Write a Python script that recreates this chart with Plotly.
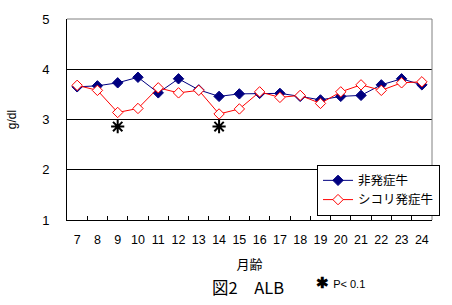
import plotly.graph_objects as go

months = [str(m) for m in range(7, 25)]
non_onset = [3.65, 3.67, 3.73, 3.84, 3.53, 3.81, 3.59, 3.46, 3.51, 3.52, 3.52, 3.46, 3.39, 3.46, 3.48, 3.69, 3.81, 3.69]
shikori = [3.68, 3.58, 3.14, 3.22, 3.63, 3.53, 3.58, 3.11, 3.21, 3.55, 3.44, 3.48, 3.32, 3.55, 3.69, 3.58, 3.73, 3.75]
sig_months = ["9", "14"]
sig_level = [2.86, 2.86]

font = "Liberation Sans, Arial, Noto Sans CJK JP, sans-serif"
jp = "Noto Sans CJK JP, sans-serif"

fig = go.Figure()
fig.add_trace(go.Scatter(
    x=months, y=non_onset, mode="lines+markers", name="非発症牛",
    line=dict(color="#000080", width=1),
    marker=dict(symbol="diamond", size=8, color="#000080", line=dict(color="#000080", width=1)),
))
fig.add_trace(go.Scatter(
    x=months, y=shikori, mode="lines+markers", name="シコリ発症牛",
    line=dict(color="#ff0000", width=1),
    marker=dict(symbol="diamond", size=8, color="white", line=dict(color="#ff0000", width=1)),
))
fig.add_trace(go.Scatter(
    x=sig_months, y=sig_level, mode="markers", showlegend=False,
    marker=dict(symbol="asterisk-open", size=11, color="black", line=dict(color="black", width=2)),
))

fig.update_layout(
    width=452, height=305,
    margin=dict(l=65, r=17, t=16, b=85),
    paper_bgcolor="white", plot_bgcolor="white",
    font=dict(family=font, size=13, color="black"),
    showlegend=True,
    legend=dict(
        x=1.022, y=0.275, xanchor="right", yanchor="top",
        bgcolor="white", bordercolor="black", borderwidth=1,
        font=dict(family=jp, size=12.5),
        tracegroupgap=0, itemwidth=30,
    ),
    xaxis=dict(
        type="category", categoryorder="array", categoryarray=months,
        range=[-0.5, 17.5],
        showline=True, linecolor="black", linewidth=1,
        ticks="inside", ticklen=4, tickcolor="black", tickson="boundaries",
        showgrid=False, zeroline=False, fixedrange=True,
        tickangle=0, tickfont=dict(size=12.5),
        ticklabelstandoff=8,
        title=dict(text="月齢", font=dict(family=jp, size=13), standoff=13),
    ),
    yaxis=dict(
        range=[1, 5], dtick=1, tick0=1,
        showline=True, linecolor="black", linewidth=1,
        showgrid=True, gridcolor="black", gridwidth=1,
        zeroline=False, ticks="", ticklabelstandoff=14,
        tickfont=dict(size=13),
        title=dict(text="g/dl", font=dict(size=12), standoff=22),
    ),
    shapes=[
        dict(type="line", xref="paper", yref="paper", x0=0, x1=1, y0=1, y1=1,
             line=dict(color="#808080", width=1)),
        dict(type="line", xref="paper", yref="paper", x0=1, x1=1, y0=0, y1=1,
             line=dict(color="#808080", width=1)),
    ],
    annotations=[
        dict(text="図2　ALB", xref="paper", yref="paper", x=0.495, y=-0.335,
             xanchor="center", yanchor="middle", showarrow=False,
             font=dict(family=jp, size=16.5)),
        dict(text="<b>✱</b> <span style='font-size:11px'>P< 0.1</span>", xref="paper", yref="paper",
             x=0.75, y=-0.31, xanchor="center", yanchor="middle", showarrow=False,
             font=dict(family=font, size=15)),
    ],
)

fig.write_html("out.html")
